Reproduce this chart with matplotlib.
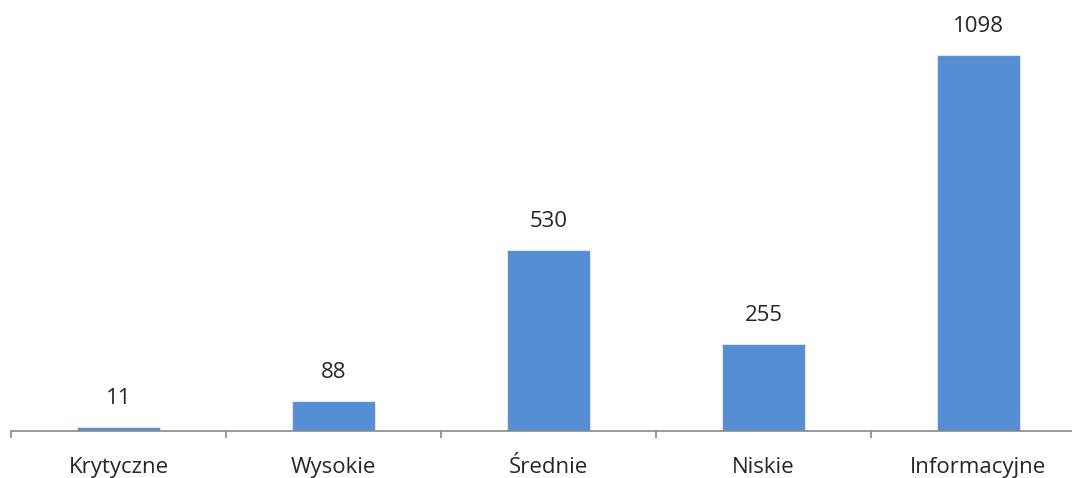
import matplotlib
matplotlib.use("Agg")
import matplotlib.pyplot as plt
from matplotlib.ticker import FixedLocator, NullFormatter

categories = ["Krytyczne", "Wysokie", "Średnie", "Niskie", "Informacyjne"]
values = [11, 88, 530, 255, 1098]

W, H = 1072, 478
fig = plt.figure(figsize=(W / 100, H / 100), dpi=100)
plt.rcParams['font.family'] = ['Open Sans', 'DejaVu Sans']

left_px, base_px = 11, 47
cat_w = 215
ymax = 1200
px_per_unit = 376 / 1098
ax = fig.add_axes([left_px / W, base_px / H, cat_w * 5 / W, ymax * px_per_unit / H])

x = list(range(len(categories)))
bars = ax.bar(x, values, width=0.39, color="#558ED5", edgecolor="#e4e4e4", linewidth=0.8, zorder=2)
ax.set_xlim(-0.5, 4.5)
ax.set_ylim(0, ymax)

for xi, v in zip(x, values):
    ax.annotate(str(v), (xi, v), xytext=(0, 20.5), textcoords="offset points",
                ha="center", va="center", fontsize=16, color="#262626")

for s in ["top", "right", "left"]:
    ax.spines[s].set_visible(False)
ax.spines["bottom"].set_color("#898989")
ax.spines["bottom"].set_linewidth(1.2)
ax.set_yticks([])

ax.xaxis.set_major_locator(FixedLocator([-0.5, 0.5, 1.5, 2.5, 3.5, 4.5]))
ax.xaxis.set_major_formatter(NullFormatter())
ax.xaxis.set_minor_locator(FixedLocator(x))
ax.set_xticklabels(categories, minor=True)
ax.tick_params(axis="x", which="major", direction="out", length=5, width=1.2, color="#898989")
ax.tick_params(axis="x", which="minor", length=0, pad=19, labelsize=16, labelcolor="#262626")

fig.savefig("out.png", dpi=100)
